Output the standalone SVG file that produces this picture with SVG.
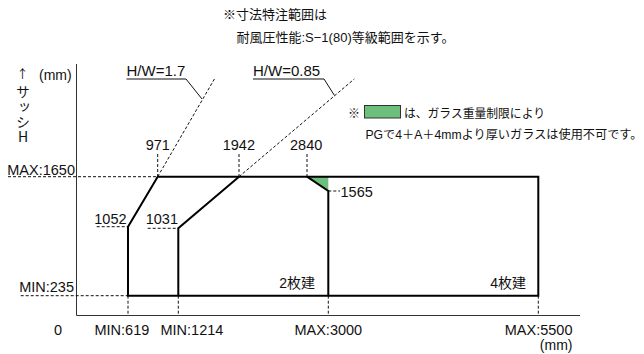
<svg xmlns="http://www.w3.org/2000/svg" width="644" height="354" viewBox="0 0 644 354">
<style>
text{font-family:'Liberation Sans','Noto Sans CJK JP',sans-serif;fill:#111;}
.n{font-size:14.5px;}
.j{font-family:'Noto Sans CJK JP',sans-serif;}
.axis{stroke:#333;stroke-width:1;fill:none;}
.dash{stroke:#111;stroke-width:1;stroke-dasharray:3,2;fill:none;}
.edge{stroke:#000;stroke-width:2;fill:none;stroke-linejoin:miter;}
.lead{stroke:#111;stroke-width:1;fill:none;}
</style>
<rect width="644" height="354" fill="#fff"/>
<g id="notes">
<text x="223" y="19" font-size="13">※寸法特注範囲は</text>
<text x="236.5" y="42" font-size="13">耐風圧性能:S−1(80)等級範囲を示す。</text>
<text x="348" y="118" font-size="12">※</text>
<rect x="364.5" y="105.5" width="36" height="12.5" fill="#6cbf7c" stroke="#333" stroke-width="1"/>
<text x="404" y="118" font-size="12" textLength="141" lengthAdjust="spacingAndGlyphs">は、ガラス重量制限により</text>
<text x="365.5" y="139" font-size="12" textLength="277" lengthAdjust="spacingAndGlyphs">PGで4＋A＋4mmより厚いガラスは使用不可です。</text>
</g>
<g id="axes">
<path class="axis" d="M76.5,64 V315.5 H580"/>
<text class="j" x="22.5" y="78.5" font-size="12" text-anchor="middle">↑</text>
<text x="39" y="80" font-size="14">(mm)</text>
<text class="j" x="23" y="85" font-size="14" letter-spacing="1" style="writing-mode:vertical-rl;text-orientation:upright">サッシH</text>
<text class="n" x="75" y="175" text-anchor="end">MAX:1650</text>
<text class="n" x="74" y="292" text-anchor="end">MIN:235</text>
<text class="n" x="58" y="335" text-anchor="middle">0</text>
<text class="n" x="94.5" y="335">MIN:619</text>
<text class="n" x="160.5" y="335">MIN:1214</text>
<text class="n" x="328.3" y="335" text-anchor="middle">MAX:3000</text>
<text class="n" x="572.5" y="335" text-anchor="end">MAX:5500</text>
<text x="572.5" y="350" font-size="14" text-anchor="end">(mm)</text>
</g>
<g id="green-area">
<polygon points="307,176.7 328.3,176.7 328.3,191" fill="#6cbf7c"/>
</g>
<g id="connectors">
<path class="dash" d="M8,176.7 H157.7"/>
<path class="dash" d="M20.7,295.7 H128"/>
<path class="dash" d="M96.7,226.7 H128"/>
<path class="dash" d="M147.7,228.3 H178.3"/>
<path class="dash" d="M328.3,191 H340"/>
<path class="dash" d="M157.7,154 V176.7 M239,154 V176.7 M307,154 V176.7"/>
<path class="dash" d="M128,295.7 V315.5 M178.3,295.7 V315.5 M328.3,295.7 V315.5 M538.3,295.7 V315.5"/>
<path class="dash" d="M157.7,176.7 L215,78"/>
<path class="dash" d="M239,176.7 L354.3,79"/>
<path class="lead" d="M126.5,79 H186 L202,99"/>
<path class="lead" d="M253,79 H324 L334.5,95.5"/>
</g>
<g id="frame-2">
<path class="edge" d="M128,295.7 V226.7 L157.7,176.7 H538.3 V295.7 Z"/>
<path class="edge" d="M178.3,295.7 V228.3 L239,176.7"/>
<path class="edge" d="M328.3,295.7 V191 L307,176.7"/>
</g>
<g id="labels">
<text class="n" x="145.7" y="150">971</text>
<text class="n" x="222.7" y="150">1942</text>
<text class="n" x="290" y="150">2840</text>
<text class="n" x="340.5" y="197">1565</text>
<text class="n" x="94.3" y="224">1052</text>
<text class="n" x="145.7" y="224">1031</text>
<text x="315" y="288" font-size="14" text-anchor="end">2枚建</text>
<text x="526" y="288" font-size="14" text-anchor="end">4枚建</text>
<text x="126.5" y="76" font-size="15">H/W=1.7</text>
<text x="253" y="76" font-size="15">H/W=0.85</text>
</g>
</svg>
